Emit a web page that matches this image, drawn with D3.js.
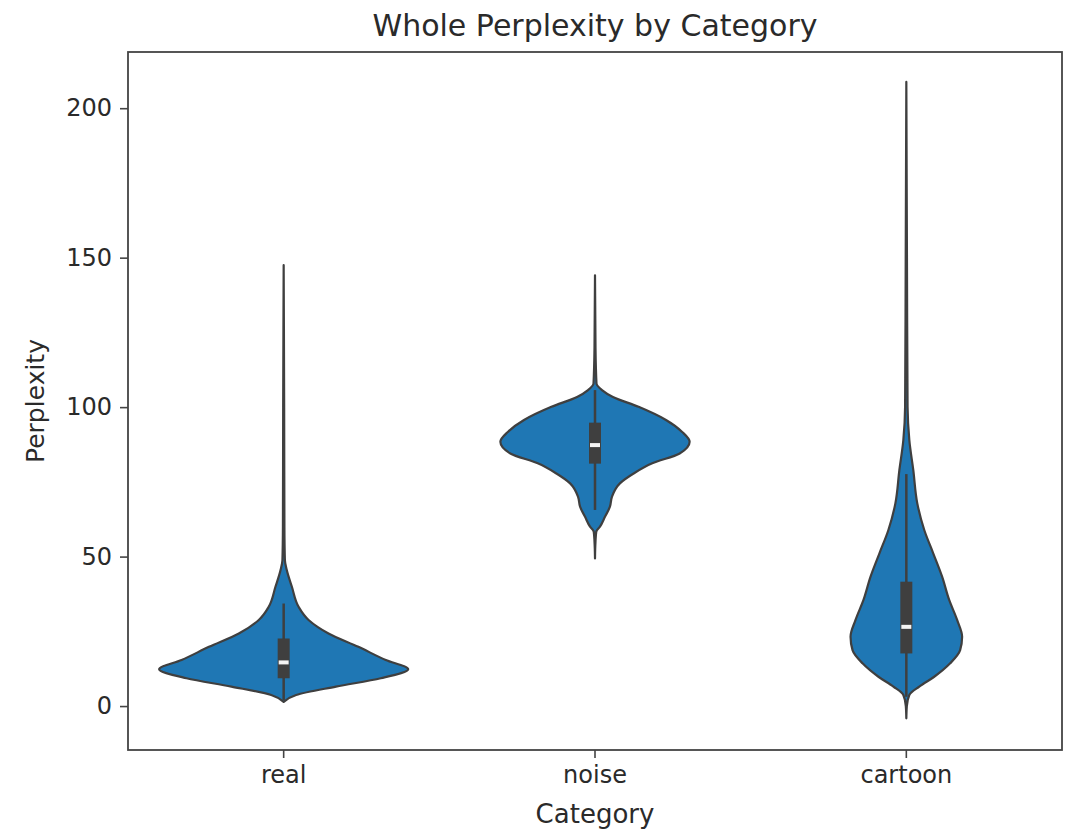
<!DOCTYPE html>
<html>
<head>
<meta charset="utf-8">
<script src="https://cdn.jsdelivr.net/npm/d3@7"></script>
<style>
  body { margin: 0; background: #fff; }
  text { font-family: "DejaVu Sans", sans-serif; fill: #2a2a2a; }
</style>
</head>
<body>
<div id="chart"></div>
<script>
const categories = ["real", "noise", "cartoon"];
const yTicks = [0, 50, 100, 150, 200];

// density outlines: [perplexity, relative half-width]
const realDensity = [[1.4, 0], [3.7, 0.10], [6.5, 0.42], [9.3, 0.78], [12.3, 1.0], [15.4, 0.82], [19.8, 0.60],
    [24.3, 0.36], [28.8, 0.20], [33.2, 0.12], [39.9, 0.066], [45.5, 0.025], [48.8, 0.01], [60, 0.006],
    [100, 0.004], [147.5, 0]];
const noiseDensity = [[49.4, 0], [55, 0.004], [58.3, 0.01], [60, 0.04], [63.3, 0.08], [66.7, 0.12], [70, 0.136],
    [74.5, 0.2], [77.8, 0.31], [81.2, 0.46], [84.5, 0.68], [88.4, 0.76], [91.7, 0.70], [95.7, 0.57],
    [100.1, 0.35], [103.4, 0.144], [105.7, 0.056], [107.9, 0.012], [120, 0.004], [144.1, 0]];
const cartoonDensity = [[-4.1, 0], [0, 0.004], [3.7, 0.024], [6.5, 0.104], [9.8, 0.224], [14.3, 0.352],
    [18.7, 0.432], [23.2, 0.448], [28.8, 0.408], [35.5, 0.344], [43.2, 0.288], [51.1, 0.216], [58.9, 0.144],
    [67.8, 0.088], [78.9, 0.056], [89, 0.024], [100, 0.01], [150, 0.005], [208.8, 0]];

// inner box: q1, median, q3, whisker low, whisker high
const q1 = [9.3, 81.1, 17.6];
const medians = [14.6, 87.3, 26.5];
const q3 = [22.6, 94.8, 41.6];
const whiskLow = [2, 65.6, 3.1];
const whiskHigh = [34.3, 105.7, 77.6];

const densities = [realDensity, noiseDensity, cartoonDensity];

const width = 1074, height = 831;
const margin = {top: 52, right: 12, bottom: 81, left: 128};

const svg = d3.select("#chart")
    .append("svg")
    .attr("width", width)
    .attr("height", height);

const x = d3.scaleBand()
    .domain(categories)
    .range([margin.left, width - margin.right])
    .padding(0);

const y = d3.scaleLinear()
    .domain([-14.7, 218.8])
    .range([height - margin.bottom, margin.top]);

const w = d3.scaleLinear()
    .domain([0, 1])
    .range([0, x.bandwidth() * 0.4]);

const blue = "#1f77b4", dark = "#3f3f3f";

// violins
categories.forEach(function(cat, i){
    const cx = x(cat) + x.bandwidth() / 2;
    const area = d3.area()
        .y(d => y(d[0]))
        .x0(d => cx - w(d[1]))
        .x1(d => cx + w(d[1]))
        .curve(d3.curveMonotoneY);
    svg.append("path")
        .datum(densities[i])
        .attr("d", area)
        .attr("fill", blue)
        .attr("stroke", dark)
        .attr("stroke-width", 2.2)
        .attr("stroke-linejoin", "round");

    // whisker
    svg.append("line")
        .attr("x1", cx).attr("x2", cx)
        .attr("y1", y(whiskLow[i])).attr("y2", y(whiskHigh[i]))
        .attr("stroke", dark)
        .attr("stroke-width", 2.5);
    // box
    svg.append("rect")
        .attr("x", cx - 6)
        .attr("width", 12)
        .attr("y", y(q3[i]))
        .attr("height", y(q1[i]) - y(q3[i]))
        .attr("fill", dark);
    // median
    svg.append("rect")
        .attr("x", cx - 5)
        .attr("width", 10)
        .attr("y", y(medians[i]) - 2)
        .attr("height", 4)
        .attr("fill", "#f4f4f4");
});

// axes
const yAxis = svg.append("g")
    .attr("transform", `translate(${margin.left},0)`)
    .call(d3.axisLeft(y).tickValues(yTicks).tickSize(8).tickPadding(8));
const xAxis = svg.append("g")
    .attr("transform", `translate(0,${height - margin.bottom})`)
    .call(d3.axisBottom(x).tickSize(8).tickPadding(8));

[yAxis, xAxis].forEach(function(g){
    g.select(".domain").remove();
    g.selectAll(".tick line").attr("stroke", "#444").attr("stroke-width", 1.6);
    g.selectAll(".tick text").style("font-size", "24px").attr("fill", "#2a2a2a");
});

// frame
svg.append("rect")
    .attr("x", margin.left)
    .attr("y", margin.top)
    .attr("width", width - margin.left - margin.right)
    .attr("height", height - margin.top - margin.bottom)
    .attr("fill", "none")
    .attr("stroke", "#444")
    .attr("stroke-width", 1.8);

svg.append("text")
    .text("Whole Perplexity by Category")
    .attr("x", (margin.left + width - margin.right) / 2)
    .attr("y", 36)
    .attr("text-anchor", "middle")
    .style("font-size", "30px");

svg.append("text")
    .text("Category")
    .attr("x", (margin.left + width - margin.right) / 2)
    .attr("y", 823)
    .attr("text-anchor", "middle")
    .style("font-size", "26px");

svg.append("text")
    .text("Perplexity")
    .attr("transform", `translate(44,${(margin.top + height - margin.bottom) / 2}) rotate(-90)`)
    .attr("text-anchor", "middle")
    .style("font-size", "25px");
</script>
</body>
</html>
